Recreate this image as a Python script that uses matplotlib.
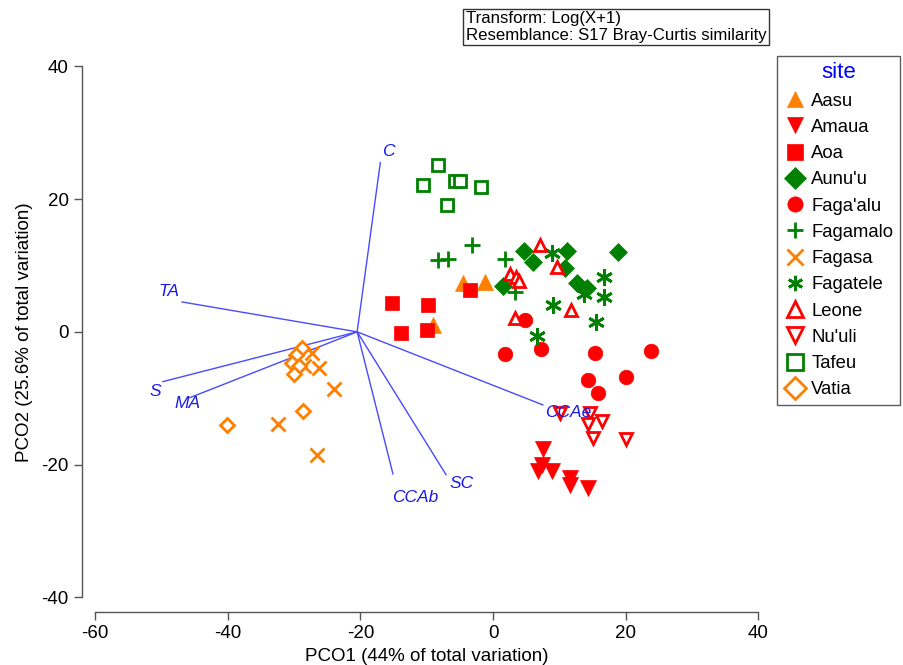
#!/usr/bin/env python3
"""PCO ordination of sites with vector overlay (PRIMER-style)."""
import matplotlib
matplotlib.use("Agg")
import matplotlib.pyplot as plt

plt.rcParams.update({"font.family": ["Liberation Sans", "DejaVu Sans"],
                     "axes.unicode_minus": False})

ORANGE = "#ff8000"
RED = "#ff0000"
GREEN = "#008000"
BLUE_LINE = "#4a4aff"
BLUE_TXT = "#1a1ae6"

# site scores (PCO1, PCO2)
aasu_x = [-4.5, -1.2, -9.0]
aasu_y = [7.4, 7.5, 1.1]
amaua_x = [7.5, 7.4, 6.8, 8.9, 11.6, 11.6, 14.3]
amaua_y = [-17.6, -20.0, -20.9, -20.9, -22.0, -23.0, -23.5]
aoa_x = [-15.2, -9.8, -13.9, -10.0, -3.5]
aoa_y = [4.4, 4.1, -0.2, 0.3, 6.3]
aunuu_x = [4.7, 6.0, 11.2, 10.9, 18.9, 12.7, 14.2, 1.5]
aunuu_y = [12.2, 10.5, 12.2, 9.6, 12.0, 7.4, 6.6, 6.9]
fagaalu_x = [4.8, 1.8, 7.2, 15.4, 23.8, 14.3, 20.1, 15.8]
fagaalu_y = [1.8, -3.3, -2.6, -3.2, -2.9, -7.2, -6.8, -9.2]
fagamalo_x = [-8.3, -6.8, -3.2, 1.8, 3.3]
fagamalo_y = [10.8, 11.0, 13.1, 11.0, 6.0]
fagasa_x = [-27.3, -28.5, -26.2, -24.0, -32.4, -26.5]
fagasa_y = [-3.2, -5.1, -5.4, -8.6, -13.9, -18.5]
fagatele_x = [8.9, 16.7, 16.7, 13.7, 9.0, 15.5, 6.6]
fagatele_y = [11.9, 8.3, 5.3, 5.7, 4.1, 1.5, -0.6]
leone_x = [7.1, 9.7, 2.6, 3.5, 3.9, 3.3, 11.8]
leone_y = [13.1, 9.8, 8.7, 8.3, 7.7, 2.1, 3.3]
nuuli_x = [10.1, 14.6, 16.4, 14.3, 15.1, 20.1]
nuuli_y = [-12.3, -12.2, -13.4, -13.9, -16.0, -16.1]
tafeu_x = [-8.3, -10.6, -5.7, -5.0, -1.8, -6.9]
tafeu_y = [25.2, 22.1, 22.7, 22.7, 21.8, 19.1]
vatia_x = [-28.8, -29.7, -30.3, -29.3, -30.0, -28.7, -40.1]
vatia_y = [-2.4, -3.5, -4.7, -5.1, -6.3, -11.9, -14.0]

# vector overlay
vec_origin = (-20.5, 0.0)
vec_names = ["C", "TA", "S", "MA", "CCAb", "SC", "CCAe"]
vec_x = [-17.0, -46.9, -49.8, -45.7, -15.1, -7.1, 7.5]
vec_y = [25.5, 4.5, -7.5, -9.9, -21.4, -21.5, -11.0]

sites = [
    ("Aasu", aasu_x, aasu_y, "^", ORANGE, True),
    ("Amaua", amaua_x, amaua_y, "v", RED, True),
    ("Aoa", aoa_x, aoa_y, "s", RED, True),
    ("Aunu'u", aunuu_x, aunuu_y, "D", GREEN, True),
    ("Faga'alu", fagaalu_x, fagaalu_y, "o", RED, True),
    ("Fagamalo", fagamalo_x, fagamalo_y, "+", GREEN, None),
    ("Fagasa", fagasa_x, fagasa_y, "x", ORANGE, None),
    ("Fagatele", fagatele_x, fagatele_y, (6, 2, 0), GREEN, None),
    ("Leone", leone_x, leone_y, "^", RED, False),
    ("Nu'uli", nuuli_x, nuuli_y, "v", RED, False),
    ("Tafeu", tafeu_x, tafeu_y, "s", GREEN, False),
    ("Vatia", vatia_x, vatia_y, "D", ORANGE, False),
]

fig = plt.figure(figsize=(9.04, 6.65), dpi=100)
ax = fig.add_axes([82 / 904, 53 / 665, (771.5 - 82) / 904, (612 - 53) / 665])
ax.set_xlim(-62, 42)
ax.set_ylim(-42.2, 42)

# vectors
for name, vx, vy in zip(vec_names, vec_x, vec_y):
    ax.plot([vec_origin[0], vx], [vec_origin[1], vy], color=BLUE_LINE, lw=1.0, zorder=1)

# site points
size_filled = {"^": 11.5, "v": 11.5, "s": 10, "D": 9, "o": 10.5}
size_open = {"^": 9, "v": 9, "s": 8, "D": 7.5}
size_line = {"+": 12, "x": 9.5, (6, 2, 0): 12}
for name, xs, ys, mk, col, filled in sites:
    kw = dict(linestyle="none", marker=mk, label=name, zorder=3)
    if filled is True:
        kw.update(color=col, markeredgecolor=col, markeredgewidth=0.5,
                  markersize=size_filled[mk])
    elif filled is False:
        kw.update(markerfacecolor="white", markeredgecolor=col, markeredgewidth=2.0,
                  markersize=size_open[mk])
    else:
        kw.update(color=col, markeredgewidth=2.0, markersize=size_line[mk])
    ax.plot(xs, ys, **kw)

# vector labels
lab_off = {"C": (1.2, 1.7), "TA": (-2.0, 1.6), "S": (-1.2, -1.5), "MA": (-0.4, -0.9),
           "CCAb": (3.3, -3.5), "SC": (2.3, -1.3), "CCAe": (3.8, -1.2)}
for name, vx, vy in zip(vec_names, vec_x, vec_y):
    dx, dy = lab_off[name]
    ax.text(vx + dx, vy + dy, name, color=BLUE_TXT, fontsize=12.5, style="italic",
            ha="center", va="center", zorder=4)

# range-frame axes
for s in ("top", "right"):
    ax.spines[s].set_visible(False)
ax.spines["left"].set_bounds(-40, 40)
ax.spines["bottom"].set_bounds(-60, 40)
for s in ("left", "bottom"):
    ax.spines[s].set_color("#555555")
    ax.spines[s].set_linewidth(1.0)
ax.set_xticks([-60, -40, -20, 0, 20, 40])
ax.set_yticks([-40, -20, 0, 20, 40])
ax.tick_params(direction="out", length=6, width=1, color="#555555", labelsize=13.5)
ax.set_xlabel("PCO1 (44% of total variation)", fontsize=13.5, labelpad=4)
ax.set_ylabel("PCO2 (25.6% of total variation)", fontsize=13.5, labelpad=6)

# legend
leg = ax.legend(loc="upper left", bbox_to_anchor=(777 / 904, 1 - 56 / 665),
                bbox_transform=fig.transFigure, title="site", fontsize=13.3,
                frameon=True, fancybox=False, edgecolor="#333333", borderpad=0.35,
                handletextpad=0.3, labelspacing=0.5, handlelength=1.2, borderaxespad=0)
leg.get_title().set_color("blue")
leg.get_title().set_fontsize(16)
leg.get_frame().set_linewidth(1.0)
for h in leg.legend_handles:
    h.set_markersize(11)

fig.text(466 / 904, 1 - 27 / 665, "Transform: Log(X+1)\nResemblance: S17 Bray-Curtis similarity",
         fontsize=12.1, ha="left", va="center", linespacing=1.15,
         bbox=dict(boxstyle="square,pad=0.15", facecolor="white", edgecolor="#333333", lw=1.0))

fig.savefig("out.png", dpi=100)
